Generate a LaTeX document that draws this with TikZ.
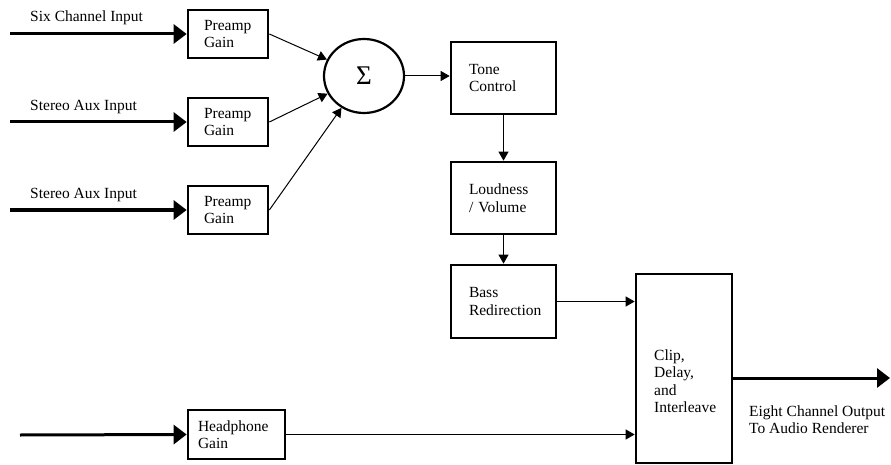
\documentclass[tikz,border=0pt]{standalone}
\usepackage{fontspec}
\setmainfont{Liberation Serif}
\usetikzlibrary{arrows.meta,shapes.geometric}
\begin{document}
\begin{tikzpicture}[x=1pt,y=-1pt,
  font=\fontsize{15.5}{17.5}\selectfont,
  blk/.style={draw, line width=2.7pt, align=left, inner ysep=0pt},
  thin/.style={line width=1pt, -{Triangle[length=9pt,width=10pt]}},
  feed/.style={line width=3pt, -{Triangle[length=13pt,width=19pt]}},
  lbl/.style={anchor=west, inner sep=0pt, align=left}]
\useasboundingbox (0,0) rectangle (891,465);

% input labels and feed points
\node[lbl] (l1) at (30,18) {Six Channel Input};
\node[lbl] (l2) at (30,107) {Stereo Aux Input};
\node[lbl] (l3) at (30,195) {Stereo Aux Input};
\coordinate (in1) at (10,34);
\coordinate (in2) at (10,122);
\coordinate (in3) at (10,210);
\coordinate (in4) at (20,435);

% preamp stages
\node[blk, minimum width=80pt, minimum height=48pt, text width=48pt, inner xsep=16pt] (p1) at (228,34) {Preamp\\Gain};
\node[blk, minimum width=80pt, minimum height=48pt, text width=48pt, inner xsep=16pt] (p2) at (228,122) {Preamp\\Gain};
\node[blk, minimum width=80pt, minimum height=48pt, text width=48pt, inner xsep=16pt] (p3) at (228,210) {Preamp\\Gain};

% summing junction
\node[draw, ellipse, line width=2.2pt, minimum width=80pt, minimum height=74pt, inner sep=0pt,
      font=\fontsize{27}{27}\selectfont] (sum) at (364,76) {Σ};

% processing chain
\node[blk, minimum width=105pt, minimum height=72pt, text width=69pt, inner xsep=18pt] (tone) at (503.5,78) {Tone\\Control};
\node[blk, minimum width=105pt, minimum height=72pt, text width=69pt, inner xsep=18pt] (loud) at (503.5,198) {Loudness\\/ Volume};
\node[blk, minimum width=105pt, minimum height=73pt, text width=69pt, inner xsep=18pt] (bass) at (503.5,301.5) {Bass\\Redirection};

% output stage
\node[blk, minimum width=96pt, minimum height=189pt] (clip) at (684,368.5) {};
\node[lbl] (cliptxt) at (654,381) {Clip,\\Delay,\\and\\Interleave};
\coordinate (outend) at (890,378);
\node[lbl] (outl) at (749,419.5) {Eight Channel Output\\To Audio Renderer};

% headphone path
\node[blk, minimum width=97pt, minimum height=49pt, text width=77pt, inner xsep=10pt] (hp) at (236.5,434.5) {Headphone\\Gain};

% connectors
\draw[feed] (in1) -- (p1.west);
\draw[feed] (in2) -- (p2.west);
\draw[feed] (in3) -- (p3.west);
\draw[feed] (in4) -- (hp.west);
\draw[thin] (p1.east) -- (sum);
\draw[thin] (p2.east) -- (sum);
\draw[thin] (p3.east) -- (sum);
\draw[thin] (sum.east) -- (sum.east -| tone.west);
\draw[thin] (tone) -- (loud);
\draw[thin] (loud) -- (bass);
\draw[thin] (bass.east) -- (bass.east -| clip.west);
\draw[thin] (hp.east) -- (hp.east -| clip.west);
\draw[feed] (outend -| clip.east) -- (outend);
\end{tikzpicture}
\end{document}
